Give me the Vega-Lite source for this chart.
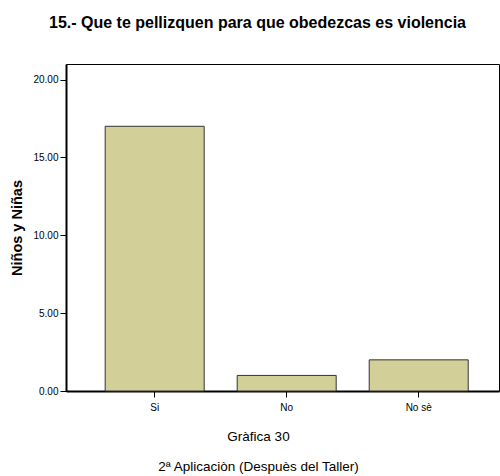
{
  "$schema": "https://vega.github.io/schema/vega-lite/v6.json",
  "width": 433,
  "height": 327,
  "autosize": {"type": "none"},
  "padding": {"left": 66, "top": 64, "right": 1, "bottom": 85},
  "background": "white",
  "title": {
    "text": "15.- Que te pellizquen para que obedezcas es violencia",
    "font": "Liberation Sans",
    "fontSize": 16,
    "fontWeight": "bold",
    "color": "black",
    "anchor": "middle",
    "dx": -25,
    "offset": 33
  },
  "config": {
    "view": {"stroke": "black", "strokeWidth": 1},
    "font": "Liberation Sans"
  },
  "data": {
    "values": [
      {"respuesta": "Si", "n": 17},
      {"respuesta": "No", "n": 1},
      {"respuesta": "No sè", "n": 2}
    ]
  },
  "mark": {"type": "bar", "color": "#d3cf98", "stroke": "#333333", "strokeWidth": 1},
  "encoding": {
    "x": {
      "field": "respuesta",
      "type": "nominal",
      "sort": ["Si", "No", "No sè"],
      "scale": {"paddingInner": 0.25, "paddingOuter": 0.265, "align": 0.56},
      "axis": {
        "title": ["Gràfica 30", "2ª Aplicaciòn (Despuès del Taller)"],
        "titleFont": "Liberation Sans",
        "titleFontSize": 13.5,
        "titleFontWeight": "normal",
        "titleColor": "black",
        "titleLineHeight": 30,
        "titleX": 192,
        "titleY": 45,
        "titleBaseline": "middle",
        "labelAngle": 0,
        "labelFontSize": 10,
        "labelColor": "black",
        "labelPadding": 5,
        "tickColor": "black",
        "tickSize": 6,
        "domainColor": "black",
        "domainWidth": 2
      }
    },
    "y": {
      "field": "n",
      "type": "quantitative",
      "scale": {"domain": [0, 21], "nice": false},
      "axis": {
        "title": "Niños y Niñas",
        "titleFont": "Liberation Sans",
        "titleFontSize": 14.5,
        "titleFontWeight": "bold",
        "titleColor": "black",
        "titleX": -42,
        "values": [0, 5, 10, 15, 20],
        "format": ".2f",
        "grid": false,
        "labelFontSize": 10,
        "labelColor": "black",
        "labelPadding": 2,
        "tickColor": "black",
        "tickSize": 6,
        "domainColor": "black",
        "domainWidth": 2
      }
    }
  }
}
